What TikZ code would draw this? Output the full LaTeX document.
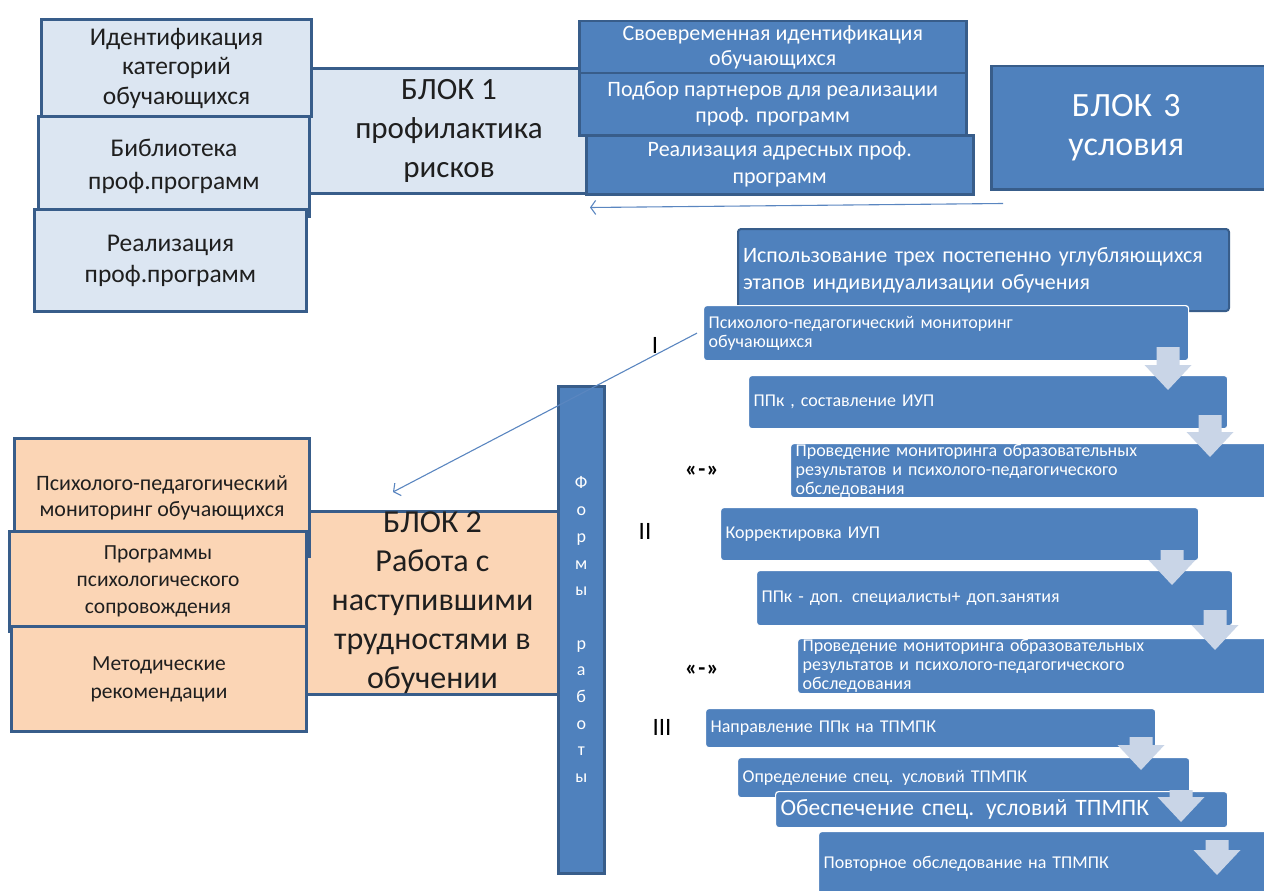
\documentclass[tikz,border=0pt]{standalone}
\usepackage{fontspec}
\setmainfont{Carlito}
\usetikzlibrary{arrows.meta,calc}
\definecolor{lb}{HTML}{DCE6F2}
\definecolor{bd}{HTML}{385D8A}
\definecolor{mb}{HTML}{4F81BD}
\definecolor{orf}{HTML}{FBD5B5}
\definecolor{ar}{HTML}{C9D5E7}
\definecolor{ln}{HTML}{5A86C0}
\newcommand\blockarrow[4]{% name, center x, top y, bottom y
  \fill[ar] (#2-11.5,#3) -- (#2+11.5,#3) -- (#2+11.5,#4-25) -- (#2+23.5,#4-25)
    -- (#2,#4) -- (#2-23.5,#4-25) -- (#2-11.5,#4-25) -- cycle;
  \coordinate (#1) at (#2,#4);}
\begin{document}
\begin{tikzpicture}[x=1pt,y=-1pt,
  base/.style={anchor=north west, inner sep=0pt, align=center},
  lbox/.style={base, draw=bd, line width=3pt, fill=lb, text=black!88},
  obox/.style={base, draw=bd, line width=3pt, fill=orf, text=black!88},
  dbox/.style={base, draw=bd, line width=2.5pt, fill=mb, text=white},
  stepbox/.style={anchor=north west, inner ysep=0pt, inner xsep=5pt, draw=white, line width=1.2pt,
     fill=mb, rounded corners=3pt, text=white, align=left},
  stxt/.style={font=\fontsize{18}{19}\selectfont},
  conn/.style={draw=ln, line width=1.1pt, -{Straight Barb[length=5pt,width=14pt]}},
  lab/.style={text=black, inner sep=0pt}]
\useasboundingbox (0,0) rectangle (1264,891);
% ---------- BLOCK 1 ----------
\node[lbox, minimum width=285, minimum height=125, font=\fontsize{31}{39}\selectfont] (b1) at (305,67)
  {БЛОК 1\\профилактика\\рисков};
\node[lbox, minimum width=270, minimum height=97, font=\fontsize{25.5}{29.5}\selectfont] (l1) at (40,18)
  {Идентификация\\категорий\\обучающихся};
\node[lbox, minimum width=271, minimum height=100, font=\fontsize{25.5}{33}\selectfont] (l2) at (37,115)
  {Библиотека\\проф.программ};
\node[lbox, minimum width=272, minimum height=102, font=\fontsize{25.5}{31}\selectfont] (l3) at (33,208)
  {Реализация\\проф.программ};
\node[dbox, minimum width=387, minimum height=52, font=\fontsize{22}{25}\selectfont] (t1) at (578,20)
  {Своевременная идентификация\\обучающихся};
\node[dbox, minimum width=387, minimum height=62, font=\fontsize{22}{26}\selectfont] (t2) at (578,72)
  {Подбор партнеров для реализации\\проф. программ};
\node[dbox, minimum width=387, minimum height=59, font=\fontsize{22}{27}\selectfont] (t3) at (585,134)
  {Реализация адресных проф.\\программ};
% ---------- BLOCK 3 ----------
\node[dbox, minimum width=290, minimum height=123, font=\fontsize{34}{39}\selectfont, text width=270] (b3) at (990,65)
  {\hspace*{-20pt}БЛОК 3\\\hspace*{-20pt}условия};
\draw[conn] ([xshift=13pt,yshift=-13pt]b3.south west) -- ([xshift=5pt,yshift=-12pt]t3.south west);
% ---------- steps ----------
\node[stepbox, draw=bd, line width=2pt, minimum height=82, text width=481, inner xsep=5pt,
  font=\fontsize{22}{27}\selectfont] (s0) at (737,228)
  {Использование трех постепенно углубляющихся\\этапов индивидуализации обучения};
\node[stepbox, stxt, minimum height=55, text width=475] (s1) at (703,305)
  {Психолого-педагогический мониторинг\\обучающихся};
\node[stepbox, stxt, minimum height=53, text width=469] (s2) at (748,375)
  {ППк , составление ИУП};
\blockarrow{a1}{1168}{347}{390}
\node[stepbox, stxt, minimum height=54, text width=480] (s3) at (790,443)
  {Проведение мониторинга  образовательных\\результатов и психолого-педагогического\\обследования};
\blockarrow{a2}{1210}{415}{457}
\node[stepbox, stxt, minimum height=53, text width=468] (s4) at (720,507)
  {Корректировка ИУП};
\node[stepbox, stxt, minimum height=55, text width=466] (s5) at (756,570)
  {ППк  -  доп. специалисты+ доп.занятия};
\blockarrow{a3}{1172}{550}{585}
\node[stepbox, stxt, minimum height=55, text width=475] (s6) at (797,638)
  {Проведение мониторинга  образовательных\\результатов и психолого-педагогического\\обследования};
\blockarrow{a4}{1215}{610}{650}
\node[stepbox, stxt, minimum height=39, text width=440] (s7) at (705,708)
  {Направление ППк на ТПМПК};
\node[stepbox, stxt, minimum height=40, text width=442] (s8) at (737,757)
  {Определение спец. условий ТПМПК};
\blockarrow{a5}{1141}{737}{770}
\node[stepbox, minimum height=36, text width=442, font=\fontsize{23.5}{25}\selectfont] (s9) at (775,791)
  {Обеспечение  спец. условий ТПМПК};
\blockarrow{a6}{1181}{790}{822}
\node[stepbox, stxt, minimum height=64, text width=442] (s10) at (818,831)
  {Повторное  обследование на ТПМПК};
\blockarrow{a7}{1217}{840}{875}
% ---------- labels ----------
\node[lab, font=\fontsize{25}{26}\selectfont] (r1) at (655,345) {I};
\node[lab, font=\fontsize{25}{26}\selectfont] (r2) at (645,531) {II};
\node[lab, font=\fontsize{25}{26}\selectfont] (r3) at (662,727) {III};
\node[lab, font=\fontsize{23}{24}\bfseries] (m1) at (702,471) {«\kern1pt-\kern1pt»};
\node[lab, font=\fontsize{23}{24}\bfseries] (m2) at (702,670) {«\kern1pt-\kern1pt»};
% ---------- BLOCK 2 ----------
\node[obox, minimum width=252, minimum height=183, font=\fontsize{32}{39}\selectfont] (b2) at (305,510)
  {БЛОК 2\\Работа с\\наступившими\\трудностями в\\обучении};
\node[obox, minimum width=295, minimum height=118, font=\fontsize{22}{26}\selectfont] (o1) at (13,437)
  {Психолого-педагогический\\мониторинг обучающихся};
\node[obox, minimum width=297, minimum height=100, font=\fontsize{21.5}{27}\selectfont] (o2) at (8,530)
  {Программы\\психологического\\сопровождения};
\node[obox, minimum width=295, minimum height=105, font=\fontsize{21.5}{28}\selectfont] (o3) at (10,625)
  {Методические\\рекомендации};
\node[dbox, minimum width=46, minimum height=487, font=\fontsize{18}{26.7}\selectfont] (bar) at (557,385)
  {Ф\\о\\р\\м\\ы\\[26.7pt]р\\а\\б\\о\\т\\ы};
\draw[conn] ([xshift=-6pt]s1.west) -- ([xshift=88pt,yshift=18pt]b2.north west);
\end{tikzpicture}
\end{document}
